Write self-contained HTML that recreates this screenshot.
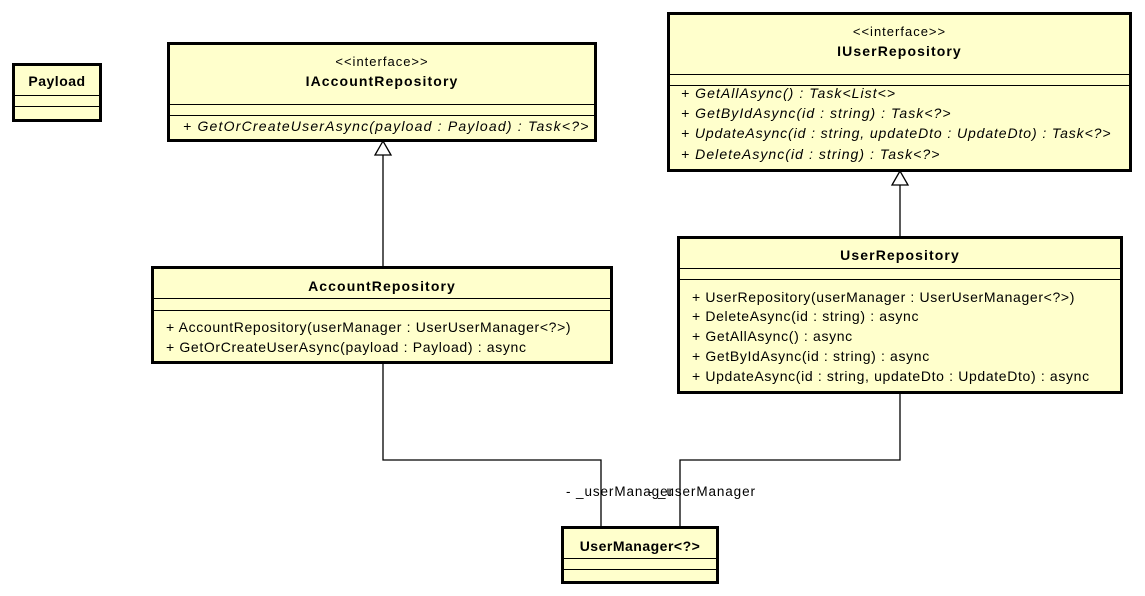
<!DOCTYPE html>
<html><head><style>
body{margin:0;width:1145px;height:596px;background:#fff;position:relative;overflow:hidden;font-family:"Liberation Sans",sans-serif;}
.b{position:absolute;background:#ffffcc;border:3px solid #000;box-sizing:border-box;}
.t{position:absolute;left:0;right:0;text-align:center;font-size:14px;color:#000;}
.bold{font-weight:bold;letter-spacing:1.1px;}
.st{font-size:13px;letter-spacing:1px;}
.s{position:absolute;left:0;right:0;border-top:1px solid #000;}
.m{position:absolute;font-size:14px;white-space:nowrap;color:#000;letter-spacing:0.65px;}
.i{font-style:italic;letter-spacing:1.05px;}
.l{position:absolute;font-size:13.5px;white-space:nowrap;letter-spacing:0.9px;}
</style></head><body>
<svg width="1145" height="596" style="position:absolute;left:0;top:0">
<g stroke="#000" stroke-width="1.3" fill="none">
<polyline points="383,155 383,267"/>
<polygon points="383,141 375,155 391,155" fill="#fff"/>
<polyline points="900,185 900,237"/>
<polygon points="900,171 892,185 908,185" fill="#fff"/>
<polyline points="383,363 383,460 601,460 601,527"/>
<polyline points="900,393 900,460 680,460 680,527"/>
</g></svg>

<div class="b" style="left:12px;top:63px;width:90px;height:59px">
<div class="t bold" style="top:7px;letter-spacing:0.5px">Payload</div>
<div class="s" style="top:29px"></div><div class="s" style="top:40px"></div>
</div>

<div class="b" style="left:167px;top:42px;width:430px;height:100px">
<div class="t st" style="top:9px">&lt;&lt;interface&gt;&gt;</div>
<div class="t bold" style="top:28px">IAccountRepository</div>
<div class="s" style="top:59px"></div><div class="s" style="top:70px"></div>
<div class="m i" style="left:13px;top:73px;letter-spacing:1.2px">+ GetOrCreateUserAsync(payload : Payload) : Task&lt;?&gt;</div>
</div>

<div class="b" style="left:667px;top:12px;width:465px;height:160px">
<div class="t st" style="top:9px">&lt;&lt;interface&gt;&gt;</div>
<div class="t bold" style="top:28px">IUserRepository</div>
<div class="s" style="top:59px"></div><div class="s" style="top:70px"></div>
<div class="m i" style="left:11px;top:70px">+ GetAllAsync() : Task&lt;List&lt;&gt;</div>
<div class="m i" style="left:11px;top:90px">+ GetByIdAsync(id : string) : Task&lt;?&gt;</div>
<div class="m i" style="left:11px;top:110px;letter-spacing:0.9px">+ UpdateAsync(id : string, updateDto : UpdateDto) : Task&lt;?&gt;</div>
<div class="m i" style="left:11px;top:131px">+ DeleteAsync(id : string) : Task&lt;?&gt;</div>
</div>

<div class="b" style="left:151px;top:266px;width:462px;height:98px">
<div class="t bold" style="top:9px">AccountRepository</div>
<div class="s" style="top:29px"></div><div class="s" style="top:41px"></div>
<div class="m" style="left:12px;top:50px">+ AccountRepository(userManager : UserUserManager&lt;?&gt;)</div>
<div class="m" style="left:12px;top:70px">+ GetOrCreateUserAsync(payload : Payload) : async</div>
</div>

<div class="b" style="left:677px;top:236px;width:446px;height:158px">
<div class="t bold" style="top:8px">UserRepository</div>
<div class="s" style="top:29px"></div><div class="s" style="top:40px"></div>
<div class="m" style="left:12px;top:50px">+ UserRepository(userManager : UserUserManager&lt;?&gt;)</div>
<div class="m" style="left:12px;top:69px">+ DeleteAsync(id : string) : async</div>
<div class="m" style="left:12px;top:89px">+ GetAllAsync() : async</div>
<div class="m" style="left:12px;top:109px">+ GetByIdAsync(id : string) : async</div>
<div class="m" style="left:12px;top:129px">+ UpdateAsync(id : string, updateDto : UpdateDto) : async</div>
</div>

<div class="b" style="left:561px;top:526px;width:158px;height:58px">
<div class="t bold" style="top:9px;letter-spacing:0.5px">UserManager&lt;?&gt;</div>
<div class="s" style="top:29px"></div><div class="s" style="top:40px"></div>
</div>

<div class="l" style="left:566px;top:484px">- _userManager</div>
<div class="l" style="left:648px;top:484px">- _userManager</div>
</body></html>
